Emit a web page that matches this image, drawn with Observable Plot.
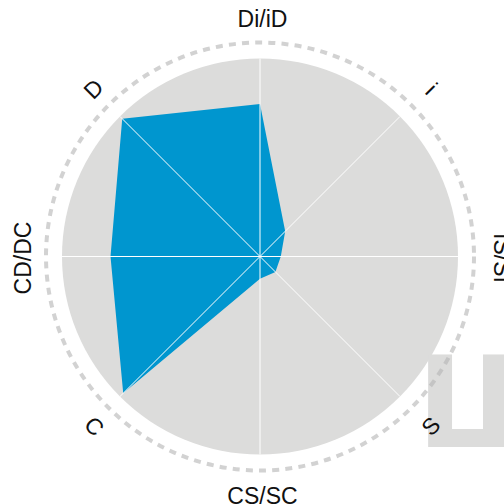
<!DOCTYPE html>
<html>
<head>
<meta charset="utf-8">
<script src="https://cdn.jsdelivr.net/npm/d3@7"></script>
<script src="https://cdn.jsdelivr.net/npm/@observablehq/plot@0.6"></script>
<style>
  html, body { margin: 0; padding: 0; background: #fff; }
  #chart { width: 504px; height: 504px; overflow: hidden; }
</style>
</head>
<body>
<div id="chart"></div>
<script>
// Axes of the radar, clockwise from the top
const categories = ["Di/iD", "i", "IS/SI", "S", "CS/SC", "C", "CD/DC", "D"];
// Profile values (0–100, 100 = outer edge of the grey disc)
const values = [77, 18, 10.5, 11, 11.3, 97.7, 75.5, 98.4];
// Watermark glyph seen in the lower right corner
const watermarkText = ["Ш"];

const W = 504, H = 504;
const cx = 259.5, cy = 256, R = 198;   // centre and disc radius, px
const labelR = 238.5 / R;               // label radius in disc units
const labelOffX = 2.5 / R, labelOffY = -1.5 / R; // small shift of the label ring
const dashR = 214;                      // dashed ring radius, px

const n = categories.length;
const angleOf = i => (i / n) * 2 * Math.PI;

const profile = categories.map((c, i) => {
  const a = angleOf(i), v = values[i] / 100;
  return { cat: c, x: v * Math.sin(a), y: v * Math.cos(a) };
});
const spokes = categories.map((c, i) => {
  const a = angleOf(i);
  return { x1: 0, y1: 0, x2: Math.sin(a), y2: Math.cos(a) };
});
const labels = categories.map((c, i) => {
  const deg = (i / n) * 360;
  let rot = deg;
  if (deg > 90 && deg < 270) rot = deg - 180;
  else if (deg >= 270) rot = deg - 360;
  const a = angleOf(i);
  return { text: c, x: labelOffX + labelR * Math.sin(a), y: labelOffY + labelR * Math.cos(a), rot };
});
const centre = [{ x: 0, y: 0 }];

const plot = Plot.plot({
  width: W,
  height: H,
  margin: 0,
  x: { domain: [-cx / R, (W - cx) / R], axis: null },
  y: { domain: [-(H - cy) / R, cy / R], axis: null },
  marks: [
    Plot.dot(centre, { x: "x", y: "y", r: R, fill: "#dcdcdb", stroke: "none" }),
    Plot.text(watermarkText, {
      text: d => d, frameAnchor: "bottom-right", textAnchor: "start", lineAnchor: "bottom",
      dx: -88, dy: -58, fontSize: 127, fontWeight: "bold",
      fontFamily: "DejaVu Sans", fill: "#dcdcdb"
    }),
    Plot.dot(centre, {
      x: "x", y: "y", r: dashR, fill: "none", stroke: "#b4b4b4", strokeOpacity: 0.6,
      strokeWidth: 4, strokeDasharray: "7,6.2"
    }),
    Plot.line(profile, {
      x: "x", y: "y", curve: "linear-closed", fill: "#0096cf", stroke: "none"
    }),
    Plot.link(spokes, {
      x1: "x1", y1: "y1", x2: "x2", y2: "y2", stroke: "#ffffff", strokeWidth: 1
    }),
    Plot.text(labels, {
      x: "x", y: "y", text: "text", rotate: "rot",
      textAnchor: "middle", lineAnchor: "middle",
      fontSize: 23, fontFamily: "Liberation Sans", fill: "#111"
    })
  ]
});
plot.style.fontFamily = "Liberation Sans";
document.getElementById("chart").appendChild(plot);
</script>
</body>
</html>
